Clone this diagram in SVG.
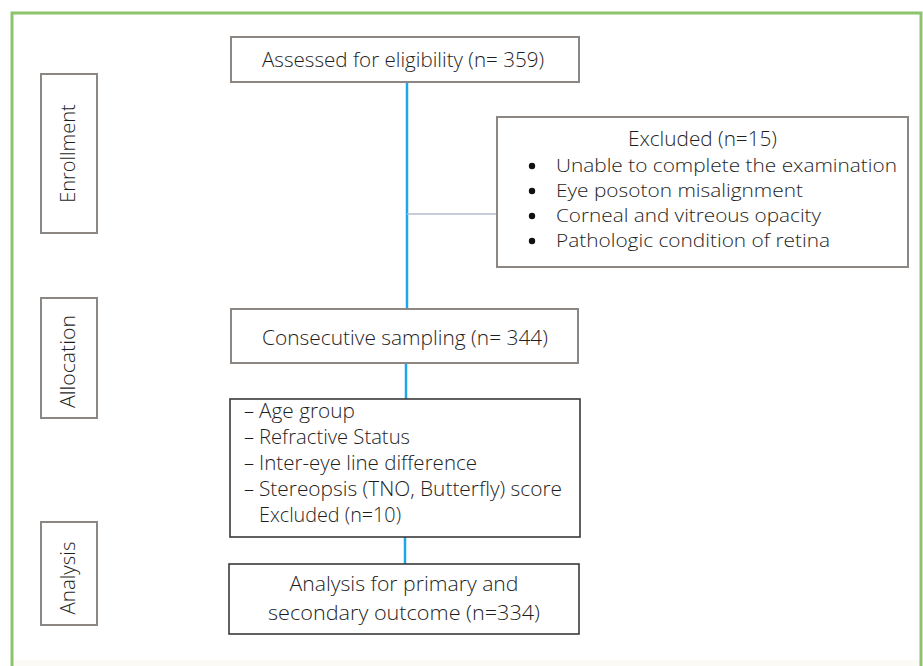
<svg xmlns="http://www.w3.org/2000/svg" width="923" height="666" viewBox="0 0 923 666">
<style>
text{font-family:"Open Sans","Noto Sans","Liberation Sans",sans-serif;fill:#1e1e1e;font-weight:300}
.t{font-size:20px}
.c{text-anchor:middle}
.lab{fill:#fff;stroke:#8c8782;stroke-width:2}
.box{fill:#fff;stroke:#8c8782;stroke-width:2}
.dbox{fill:#fff;stroke:#3a3a3a;stroke-width:1.6}
.blue{stroke:#1ea5ea;stroke-width:2.5;fill:none}
.gray{stroke:#b4bccb;stroke-width:1.5;fill:none}
.n{font-size:20.5px}
.b{font-size:19px}
</style>
<rect x="0" y="0" width="923" height="666" fill="#fff"/>
<rect x="13" y="660" width="907" height="6" fill="#fbfaf4"/>
<path d="M12,666 V13 H921 V666" fill="none" stroke="#8cc46c" stroke-width="3"/>
<g id="connectors">
<line class="blue" x1="407" y1="82" x2="407" y2="309"/>
<line class="gray" x1="407" y1="214" x2="497" y2="214"/>
<line class="blue" x1="406" y1="363" x2="406" y2="399"/>
<line class="blue" x1="405" y1="537" x2="405" y2="564"/>
</g>
<g id="label-enrollment">
<rect class="lab" x="41" y="74" width="56" height="159"/>
<text class="t c" transform="translate(75,153.5) rotate(-90)">Enrollment</text>
</g>
<g id="label-allocation">
<rect class="lab" x="41" y="298" width="56" height="120"/>
<text class="t c" transform="translate(75,361.5) rotate(-90)" textLength="93" lengthAdjust="spacingAndGlyphs">Allocation</text>
</g>
<g id="label-analysis">
<rect class="lab" x="41" y="522" width="56" height="103"/>
<text class="t c" transform="translate(75,578) rotate(-90)" textLength="73" lengthAdjust="spacingAndGlyphs">Analysis</text>
</g>
<g id="assessed">
<rect class="box" x="231" y="37" width="348" height="45"/>
<text class="n c" x="403" y="67" textLength="282" lengthAdjust="spacingAndGlyphs">Assessed for eligibility (n= 359)</text>
</g>
<g id="excluded">
<rect class="box" x="497" y="117" width="411" height="150"/>
<text class="n c" x="702.5" y="146" textLength="149" lengthAdjust="spacingAndGlyphs">Excluded (n=15)</text>
<circle cx="532" cy="166" r="3.2" fill="#111"/>
<circle cx="532" cy="191" r="3.2" fill="#111"/>
<circle cx="532" cy="216" r="3.2" fill="#111"/>
<circle cx="532" cy="241" r="3.2" fill="#111"/>
<text class="b" x="556" y="172" textLength="341" lengthAdjust="spacingAndGlyphs">Unable to complete the examination</text>
<text class="b" x="556" y="197" textLength="247" lengthAdjust="spacingAndGlyphs">Eye posoton misalignment</text>
<text class="b" x="556" y="222" textLength="265" lengthAdjust="spacingAndGlyphs">Corneal and vitreous opacity</text>
<text class="b" x="556" y="247" textLength="274" lengthAdjust="spacingAndGlyphs">Pathologic condition of retina</text>
</g>
<g id="consecutive">
<rect class="box" x="231" y="309" width="347" height="54"/>
<text class="n c" x="405" y="345" textLength="286" lengthAdjust="spacingAndGlyphs">Consecutive sampling (n= 344)</text>
</g>
<g id="criteria">
<rect class="dbox" x="230" y="399" width="350" height="138"/>
<text class="t" x="244" y="418">–</text>
<text class="t" x="244" y="444">–</text>
<text class="t" x="244" y="470">–</text>
<text class="t" x="244" y="496">–</text>
<text class="t" x="259" y="418" textLength="96" lengthAdjust="spacingAndGlyphs">Age group</text>
<text class="t" x="259" y="444" textLength="151" lengthAdjust="spacingAndGlyphs">Refractive Status</text>
<text class="t" x="259" y="470" textLength="218" lengthAdjust="spacingAndGlyphs">Inter-eye line difference</text>
<text class="t" x="259" y="496" textLength="303" lengthAdjust="spacingAndGlyphs">Stereopsis (TNO, Butterfly) score</text>
<text class="t" x="259" y="522" textLength="142" lengthAdjust="spacingAndGlyphs">Excluded (n=10)</text>
</g>
<g id="analysis">
<rect class="dbox" x="229" y="564" width="350" height="70"/>
<text class="t c" x="404" y="591" textLength="229" lengthAdjust="spacingAndGlyphs">Analysis for primary and</text>
<text class="t c" x="404" y="620" textLength="272" lengthAdjust="spacingAndGlyphs">secondary outcome (n=334)</text>
</g>
</svg>
